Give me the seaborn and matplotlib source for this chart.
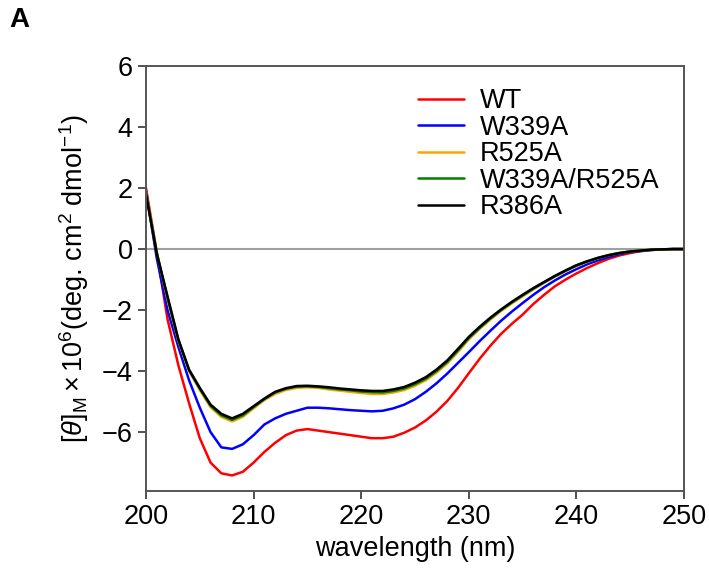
import numpy as np
import pandas as pd
import matplotlib
matplotlib.use("Agg")
import matplotlib.pyplot as plt
import seaborn as sns

wavelength = list(range(200, 251))

wt = [2.0, -0.1, -2.3, -3.8, -5.05, -6.2, -7.0, -7.35, -7.42, -7.3, -7.0, -6.65, -6.35, -6.1, -5.95,
      -5.9, -5.95, -6.0, -6.05, -6.1, -6.15, -6.2, -6.2, -6.15, -6.02, -5.85, -5.62, -5.33, -4.98,
      -4.55, -4.07, -3.6, -3.17, -2.78, -2.45, -2.15, -1.8, -1.5, -1.22, -1.0, -0.8, -0.62, -0.46,
      -0.32, -0.21, -0.13, -0.07, -0.03, -0.01, 0.0, 0.0]
w339a = [1.9, -0.3, -2.0, -3.2, -4.3, -5.2, -6.0, -6.5, -6.55, -6.4, -6.1, -5.75, -5.55, -5.4, -5.3,
         -5.2, -5.2, -5.22, -5.25, -5.28, -5.3, -5.32, -5.3, -5.22, -5.1, -4.92, -4.68, -4.4, -4.08,
         -3.73, -3.38, -3.02, -2.68, -2.35, -2.05, -1.77, -1.5, -1.25, -1.03, -0.83, -0.66, -0.5,
         -0.37, -0.26, -0.17, -0.1, -0.06, -0.03, -0.01, 0.0, 0.0]
r525a = [1.85, -0.1, -1.65, -3.0, -4.0, -4.62, -5.18, -5.5, -5.65, -5.5, -5.22, -4.95, -4.75, -4.62,
         -4.55, -4.53, -4.55, -4.6, -4.64, -4.68, -4.72, -4.75, -4.75, -4.7, -4.62, -4.48, -4.3,
         -4.05, -3.75, -3.37, -2.96, -2.62, -2.31, -2.03, -1.78, -1.55, -1.32, -1.11, -0.91, -0.73,
         -0.56, -0.42, -0.3, -0.2, -0.13, -0.08, -0.05, -0.02, -0.01, 0.0, 0.0]
w339a_r525a = [1.82, -0.12, -1.6, -2.97, -3.97, -4.58, -5.14, -5.45, -5.6, -5.45, -5.18, -4.92,
               -4.7, -4.58, -4.51, -4.5, -4.52, -4.56, -4.6, -4.63, -4.67, -4.69, -4.7, -4.65,
               -4.57, -4.43, -4.25, -4.0, -3.7, -3.32, -2.92, -2.59, -2.28, -2.0, -1.75, -1.52,
               -1.3, -1.09, -0.89, -0.71, -0.54, -0.41, -0.29, -0.2, -0.13, -0.08, -0.05, -0.02,
               -0.01, 0.0, 0.0]
r386a = [1.8, -0.15, -1.55, -2.95, -3.95, -4.55, -5.1, -5.4, -5.55, -5.4, -5.15, -4.9, -4.68, -4.56,
         -4.49, -4.48, -4.5, -4.53, -4.57, -4.6, -4.63, -4.65, -4.65, -4.6, -4.52, -4.38, -4.2,
         -3.95, -3.65, -3.27, -2.88, -2.55, -2.25, -1.98, -1.73, -1.5, -1.28, -1.08, -0.88, -0.7,
         -0.53, -0.4, -0.29, -0.2, -0.13, -0.08, -0.05, -0.02, -0.01, 0.0, 0.0]

labels = ["WT", "W339A", "R525A", "W339A/R525A", "R386A"]
series = [wt, w339a, r525a, w339a_r525a, r386a]
colors = ["#ff0000", "#0000ff", "#ffa500", "#008000", "#000000"]

frames = []
for lab, vals in zip(labels, series):
    frames.append(pd.DataFrame({"wavelength": wavelength, "value": vals, "sample": lab}))
df = pd.concat(frames, ignore_index=True)

sns.set_style("ticks")
plt.rcParams["font.family"] = ["Liberation Sans", "DejaVu Sans"]
plt.rcParams["mathtext.fontset"] = "custom"
plt.rcParams["mathtext.rm"] = "Liberation Sans"
plt.rcParams["mathtext.it"] = "Liberation Sans:italic"
plt.rcParams["text.color"] = "black"
plt.rcParams["axes.labelcolor"] = "black"
plt.rcParams["xtick.labelcolor"] = "black"
plt.rcParams["ytick.labelcolor"] = "black"

fig = plt.figure(figsize=(7.09, 5.78), dpi=100)
ax = fig.add_axes([146 / 709, 1 - 491 / 578, (684 - 146) / 709, (491 - 66) / 578])

ax.axhline(0, color="#a0a0a0", lw=1.5, zorder=1)
sns.lineplot(data=df, x="wavelength", y="value", hue="sample", hue_order=labels,
             palette=colors, lw=1.8, ax=ax, zorder=2)

ax.set_xlim(200, 250)
ax.set_ylim(-7.93, 6)
ax.set_xticks([200, 210, 220, 230, 240, 250])
ax.set_yticks([-6, -4, -2, 0, 2, 4, 6])
ax.set_yticklabels(["\u22126", "\u22124", "\u22122", "0", "2", "4", "6"])
ax.tick_params(labelsize=19.5, length=6, width=1.2, color="#333333", direction="out")
for s in ax.spines.values():
    s.set_color("#555555")
    s.set_linewidth(1.4)

ax.set_xlabel("wavelength (nm)", fontsize=19.5)
ax.set_ylabel(r"$[\mathit{\theta}]_{\mathrm{M}}\times 10^{6}$(deg. cm$^{2}$ dmol$^{-1}$)",
              fontsize=19.5, labelpad=8)

leg = ax.legend(loc="upper right", bbox_to_anchor=(1.0, 1.005), frameon=False, fontsize=19.5,
                labelspacing=0.02, handlelength=1.7, handletextpad=0.6, title=None)
for line in leg.get_lines():
    line.set_linewidth(1.8)

fig.text(9 / 709, 1 - 20 / 578, "A", fontsize=20, fontweight="bold", va="center", ha="left")

fig.savefig("out.png", dpi=100)
